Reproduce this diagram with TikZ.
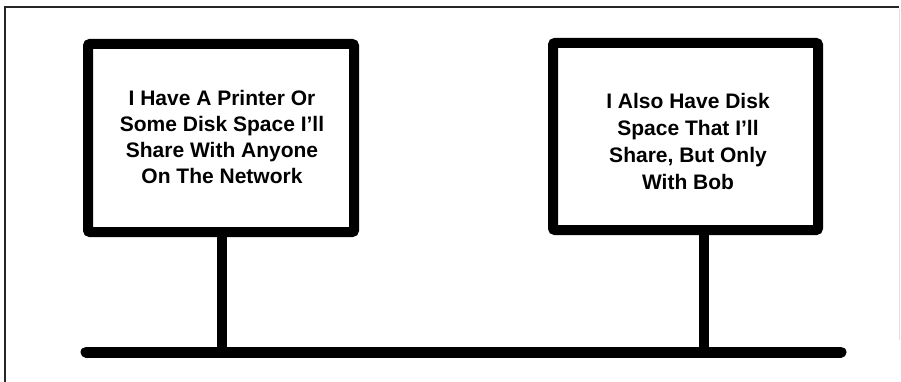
\documentclass[tikz,border=0pt]{standalone}
\usepackage{fontspec}
\setmainfont{Liberation Sans}
\begin{document}
\begin{tikzpicture}[x=1pt,y=-1pt,
  frame/.style={line width=2.5pt,draw=black!85},
  signbox/.style={draw,line width=10pt,rectangle,rounded corners=2pt,inner sep=0pt,outer sep=0pt},
  signtext/.style={align=center,font=\bfseries\fontsize{21}{26}\selectfont,inner sep=0pt},
  post/.style={line width=10pt},
  bus/.style={line width=11pt,line cap=round}]
\useasboundingbox (0,0) rectangle (901,382);
\draw[frame] (5,382) -- (5,7) -- (899,7);
\draw[line width=1pt,draw=black!12] (899,9) -- (899,340);
\node[signbox,minimum width=266pt,minimum height=188pt] (box1) at (221,138) {};
\node[signbox,minimum width=265pt,minimum height=187pt] (box2) at (685.5,136.5) {};
\node[signtext] (t1) at (222,137) {I Have A Printer Or\\Some Disk Space I'll\\Share With Anyone\\On The Network};
\node[signtext,font=\bfseries\fontsize{21}{27}\selectfont] (t2) at (688,141) {I Also Have Disk\\Space That I'll\\Share, But Only\\With Bob};
\coordinate (busL) at (86,352);
\coordinate (busR) at (841,352);
\coordinate (p1) at (222,232);
\coordinate (p2) at (704,230);
\draw[bus] (busL) -- (busR);
\draw[post] (p1) -- (p1 |- busL);
\draw[post] (p2) -- (p2 |- busL);
\end{tikzpicture}
\end{document}
